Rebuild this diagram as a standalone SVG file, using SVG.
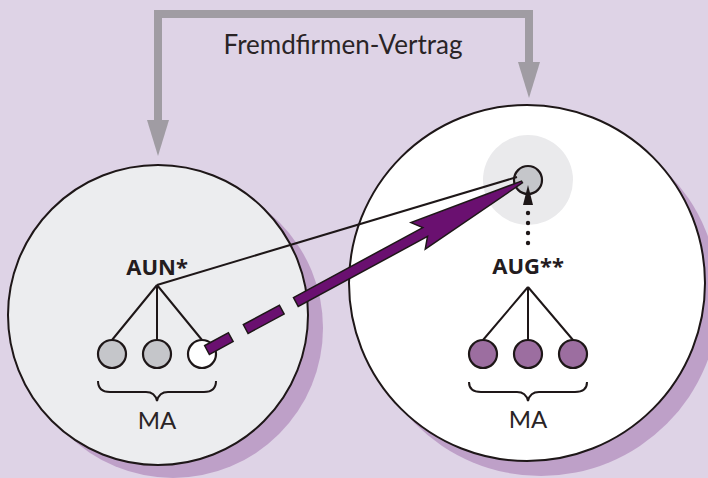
<svg xmlns="http://www.w3.org/2000/svg" width="708" height="478" viewBox="0 0 708 478">
  <style>
    .ring { stroke: #1e1718; stroke-width: 2; }
    .shadow { fill: #bea0c8; }
    .edge { stroke: #1e1718; stroke-width: 2; fill: none; }
    .member { stroke: #1e1718; stroke-width: 2.2; }
    .label { font-family: Lato, "Noto Sans", "Liberation Sans", sans-serif; fill: #2a2426; }
    .bold { font-family: "Noto Sans", "Liberation Sans", sans-serif; font-weight: bold; fill: #231c1e; font-size: 22px; }
    .contract { stroke: #a09ca3; stroke-width: 8; fill: none; }
    .purple { fill: #6a1070; stroke: #1e1718; stroke-width: 1.5; }
  </style>

  <rect width="708" height="478" fill="#ded3e6"/>

  <!-- contract connector between both companies -->
  <g id="connectors">
    <g id="contract">
      <path class="contract" d="M158,128 V14 H529 V68"/>
      <polygon points="147,120 169,120 158,156" fill="#a09ca3"/>
      <polygon points="518,62 540,62 529,98" fill="#a09ca3"/>
      <text class="label" x="343" y="54" font-size="26" text-anchor="middle">Fremdfirmen-Vertrag</text>
    </g>
  </g>

  <!-- contractor company -->
  <g id="aun">
    <circle class="shadow" cx="173" cy="328" r="150"/>
    <circle class="ring" cx="158" cy="315" r="150" fill="#ecedef"/>
    <text class="bold" x="157" y="275" text-anchor="middle">AUN*</text>
    <path class="edge" d="M157,285 L112,340 M157,285 V340 M157,285 L202,340"/>
    <circle class="member" cx="112" cy="354" r="14" fill="#c5c6ca"/>
    <circle class="member" cx="157" cy="354" r="14" fill="#c5c6ca"/>
    <circle class="member" cx="202" cy="354" r="14" fill="#ffffff"/>
    <path class="edge" d="M98,381 Q98,392 110,392 L146,392 Q155,392 157,401 Q159,392 168,392 L204,392 Q216,392 216,381"/>
    <text class="label" x="157" y="429" font-size="24" text-anchor="middle">MA</text>
  </g>

  <!-- client company -->
  <g id="aug">
    <circle class="shadow" cx="541" cy="298" r="178"/>
    <circle class="ring" cx="527" cy="283" r="178" fill="#ffffff"/>
    <circle cx="528" cy="180" r="45" fill="#eaeaec"/>
    <text class="bold" x="528" y="274" text-anchor="middle">AUG**</text>
    <path class="edge" d="M528,287 L483,340 M528,287 V340 M528,287 L573,340"/>
    <circle class="member" cx="483" cy="354" r="14" fill="#9c6ea0"/>
    <circle class="member" cx="528" cy="354" r="14" fill="#9c6ea0"/>
    <circle class="member" cx="573" cy="354" r="14" fill="#9c6ea0"/>
    <path class="edge" d="M469,382 Q469,392 481,392 L517,392 Q526,392 528,401 Q530,392 539,392 L575,392 Q587,392 587,382"/>
    <text class="label" x="528" y="428" font-size="24" text-anchor="middle">MA</text>
  </g>

  <g id="supervisor">
    <circle class="member" cx="528" cy="180" r="14" fill="#c5c6ca"/>
  </g>

  <g id="links">
    <!-- reporting line from AUN to the supervisor -->
    <path class="edge" d="M157,285 L517,177"/>
    <!-- dotted instruction line -->
    <g fill="#1e1718">
      <circle cx="528" cy="243" r="2.2"/>
      <circle cx="528" cy="233" r="2.2"/>
      <circle cx="528" cy="223" r="2.2"/>
      <circle cx="528" cy="213" r="2.2"/>
      <polygon points="528,185 523,205 533,205"/>
    </g>
    <!-- assignment arrow -->
    <g transform="translate(207,350) rotate(-28.4)">
      <rect class="purple" x="0" y="-5" width="27" height="10"/>
      <rect class="purple" x="44" y="-5" width="41" height="10"/>
      <polygon class="purple" points="101,-5 248,-5 240,-15 357,1 357,3 240,15 248,5 101,5"/>
    </g>
  </g>
</svg>
